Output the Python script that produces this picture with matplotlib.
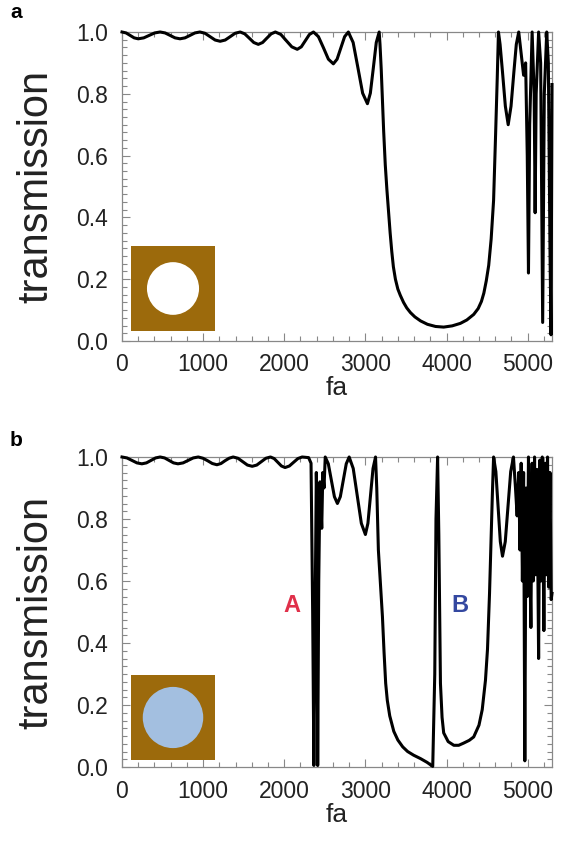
#!/usr/bin/env python

import numpy as np
import matplotlib
matplotlib.use('Agg')
import matplotlib.pyplot as plt
import matplotlib.ticker as mticker
from matplotlib.patches import Circle

plt.rcParams['font.family'] = ['Liberation Sans', 'DejaVu Sans']

# transmission spectrum, air hole in the matrix (panel a)
fa_a = [0, 50, 100, 150, 200, 268, 335, 403, 470,
        531, 593, 654, 715, 776, 838, 899, 960,
        1022, 1085, 1148, 1210, 1272, 1334, 1395, 1457,
        1513, 1569, 1624, 1680, 1733, 1785, 1838, 1890,
        1958, 2025, 2093, 2160, 2210, 2260, 2310, 2360,
        2421, 2483, 2544, 2605, 2651, 2698, 2744, 2790,
        2849, 2908, 2966, 3025, 3061, 3098, 3134, 3170,
        3180, 3195, 3210, 3225, 3245, 3265, 3285, 3305, 3325, 3345, 3370, 3400,
        3430, 3470, 3510, 3555, 3610, 3680, 3765, 3865, 3965, 4070, 4170, 4250,
        4335, 4390, 4430, 4460, 4490, 4520, 4550, 4580, 4605, 4625, 4640,
        4660, 4690, 4725, 4760, 4795, 4830, 4860, 4890,
        4920, 4950, 4975, 4995, 5010, 5025, 5055, 5080, 5092, 5105,
        5135, 5160, 5185, 5205, 5235, 5255, 5275, 5288, 5300]
tr_a = [1.000, 0.997, 0.989, 0.981, 0.978, 0.981, 0.989, 0.997, 1.000,
        0.997, 0.989, 0.981, 0.978, 0.981, 0.989, 0.997, 1.000,
        0.996, 0.985, 0.974, 0.970, 0.974, 0.985, 0.996, 1.000,
        0.994, 0.980, 0.966, 0.960, 0.966, 0.980, 0.994, 1.000,
        0.992, 0.972, 0.952, 0.944, 0.952, 0.972, 0.992, 1.000,
        0.985, 0.949, 0.912, 0.897, 0.912, 0.949, 0.985, 1.000,
        0.966, 0.884, 0.802, 0.768, 0.802, 0.884, 0.966, 1.000,
        0.960, 0.880, 0.780, 0.680, 0.570, 0.490, 0.420, 0.350, 0.290, 0.240, 0.200, 0.168,
        0.148, 0.125, 0.107, 0.092, 0.078, 0.065, 0.054, 0.047, 0.045, 0.049, 0.057, 0.068,
        0.086, 0.105, 0.128, 0.155, 0.195, 0.245, 0.330, 0.455, 0.670, 0.850, 1.000,
        0.960, 0.870, 0.760, 0.700, 0.760, 0.870, 0.960, 1.000,
        0.930, 0.860, 0.900, 0.600, 0.220, 0.700, 1.000, 0.800, 0.415, 0.800,
        1.000, 0.900, 0.060, 0.800, 1.000, 0.900, 0.300, 0.020, 0.830]

# transmission spectrum, filled inclusion (panel b)
fa_b = [0, 61, 123, 184, 245, 301, 358, 414, 470,
        525, 580, 635, 690, 753, 815, 878, 940,
        998, 1055, 1113, 1170, 1220, 1270, 1320, 1370,
        1429, 1488, 1546, 1605, 1661, 1718, 1774, 1830,
        1875, 1920, 1965, 2010, 2063, 2115, 2168, 2220,
        2300, 2330, 2350, 2365, 2380, 2395, 2400, 2412,
        2425, 2440, 2450, 2462, 2475, 2490, 2505,
        2543, 2580, 2618, 2655, 2691, 2728, 2764, 2800,
        2850, 2900, 2950, 3000, 3031, 3063, 3094, 3125,
        3140, 3160, 3185, 3210, 3230, 3250, 3270, 3300, 3350, 3400, 3460, 3520,
        3595, 3680, 3760, 3830, 3855, 3870, 3890, 3905, 3915, 3925, 3945, 3965,
        4020, 4090, 4150, 4210, 4280, 4335, 4400, 4440, 4480, 4505, 4530, 4545,
        4565, 4580, 4608, 4635, 4663, 4690, 4724, 4758, 4791, 4825,
        4850, 4870, 4890, 4905, 4920, 4935, 4950, 4965, 4980, 4995, 5010,
        5025, 5040, 5055, 5070, 5085, 5100, 5115, 5135, 5150, 5165, 5180, 5200,
        5215, 5230, 5245, 5260, 5275, 5290, 5300]
tr_b = [1.000, 0.997, 0.989, 0.981, 0.978, 0.981, 0.989, 0.997, 1.000,
        0.997, 0.989, 0.981, 0.978, 0.981, 0.989, 0.997, 1.000,
        0.996, 0.988, 0.979, 0.975, 0.979, 0.988, 0.996, 1.000,
        0.996, 0.985, 0.974, 0.970, 0.974, 0.985, 0.996, 1.000,
        0.995, 0.983, 0.971, 0.966, 0.971, 0.983, 0.995, 1.000,
        0.998, 0.980, 0.500, 0.005, 0.500, 0.950, 0.880, 0.005,
        0.600, 0.920, 0.860, 0.770, 0.950, 0.900, 1.000,
        0.978, 0.925, 0.872, 0.850, 0.872, 0.925, 0.978, 1.000,
        0.963, 0.875, 0.786, 0.750, 0.786, 0.875, 0.963, 1.000,
        0.900, 0.700, 0.590, 0.485, 0.370, 0.270, 0.215, 0.165, 0.115, 0.087, 0.065, 0.050,
        0.038, 0.027, 0.015, 0.002, 0.300, 0.800, 1.000, 0.750, 0.500, 0.270, 0.160, 0.110,
        0.082, 0.070, 0.070, 0.077, 0.086, 0.097, 0.135, 0.185, 0.280, 0.380, 0.560, 0.700,
        0.880, 1.000, 0.953, 0.840, 0.727, 0.680, 0.727, 0.840, 0.953, 1.000,
        0.900, 0.810, 0.950, 0.700, 0.980, 0.600, 0.950, 0.020, 0.900, 0.550, 1.000,
        0.700, 0.450, 0.980, 0.600, 1.000, 0.620, 0.960, 0.350, 0.990, 0.600, 1.000, 0.440,
        0.980, 0.620, 1.000, 0.580, 0.950, 0.540, 0.560]

band_labels = ['A', 'B']
band_pos = [(2100, 0.52), (4170, 0.52)]
band_colors = ['#e0304a', '#3448a0']

brown = '#9c6a0c'
fill_colors = ['white', '#a3bfe0']
fill_radius = [0.31, 0.36]

W, H = 562, 843
fig = plt.figure(figsize=(W / 100, H / 100), dpi=100)


def panel(bottom_px, top_px):
    l, r = 122, 552
    return fig.add_axes([l / W, 1 - bottom_px / H, (r - l) / W, (bottom_px - top_px) / H])


ax_a = panel(341, 32)
ax_b = panel(767, 457)

for ax, fa, tr in [(ax_a, fa_a, tr_a), (ax_b, fa_b, tr_b)]:
    ax.plot(fa, tr, color='k', lw=2.2, clip_on=False, solid_joinstyle='round', zorder=3)
    ax.set_xlim(0, 5300)
    ax.set_ylim(0, 1.0)
    ax.xaxis.set_major_locator(mticker.MultipleLocator(1000))
    ax.xaxis.set_minor_locator(mticker.MultipleLocator(200))
    ax.yaxis.set_major_locator(mticker.MultipleLocator(0.2))
    ax.yaxis.set_minor_locator(mticker.MultipleLocator(0.025))
    ax.yaxis.set_major_formatter(mticker.FormatStrFormatter('%.1f'))
    ax.tick_params(which='both', direction='in', top=True, right=True, color='#888888',
                   labelsize=16.5, labelcolor='#222222')
    ax.tick_params(which='major', length=6, width=0.8)
    ax.tick_params(which='minor', length=3.5, width=0.8)
    ax.tick_params(axis='x', pad=9)
    ax.tick_params(axis='y', pad=10)
    for s in ax.spines.values():
        s.set_color('#888888')
        s.set_linewidth(0.9)
    ax.set_xlabel('fa', fontsize=19, color='#222222', labelpad=0)
    ax.set_ylabel('transmission', fontsize=30, color='#222222', labelpad=14)

for lab, (x, y), c in zip(band_labels, band_pos, band_colors):
    ax_b.text(x, y, lab, color=c, fontsize=17, fontweight='bold', ha='center', va='center')

fig.text(10 / W, 1 - 12 / H, 'a', fontsize=15, fontweight='bold', ha='left', va='center')
fig.text(10 / W, 1 - 440 / H, 'b', fontsize=15, fontweight='bold', ha='left', va='center')

# unit-cell sketches
for top_px, fc, rad in [(246, fill_colors[0], fill_radius[0]), (675, fill_colors[1], fill_radius[1])]:
    ins = fig.add_axes([131 / W, 1 - (top_px + 85) / H, 84 / W, 85 / H])
    ins.set_facecolor(brown)
    ins.set_xticks([])
    ins.set_yticks([])
    for s in ins.spines.values():
        s.set_visible(False)
    ins.add_patch(Circle((0.5, 0.5), rad, transform=ins.transAxes, facecolor=fc, edgecolor='none'))

fig.savefig('out.png', dpi=100)
